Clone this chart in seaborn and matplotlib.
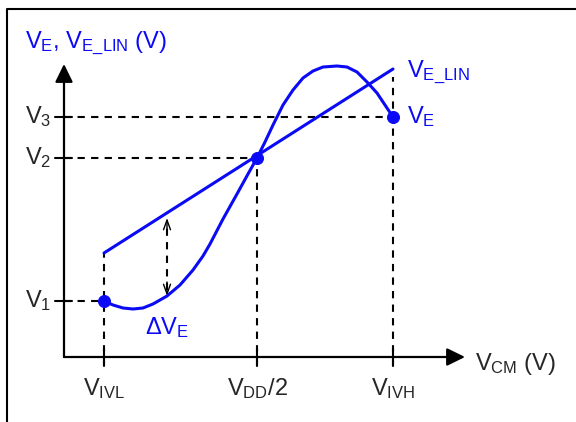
import numpy as np
import pandas as pd
import matplotlib
matplotlib.use('Agg')
import matplotlib.pyplot as plt
import seaborn as sns

sns.set_style('white')
plt.rcParams['font.family'] = ['Liberation Sans', 'DejaVu Sans']
plt.rcParams['mathtext.fontset'] = 'custom'
plt.rcParams['mathtext.rm'] = 'Liberation Sans'
plt.rcParams['mathtext.it'] = 'Liberation Sans:italic'

# x positions (V_CM) and y levels
x_names = [r'$\mathregular{V_{IVL}}$', r'$\mathregular{V_{DD}}$/2', r'$\mathregular{V_{IVH}}$']
x_vals = [40, 193, 329]
y_names = [r'$\mathregular{V_1}$', r'$\mathregular{V_2}$', r'$\mathregular{V_3}$']
y_vals = [56, 199, 240]

# V_E curve (read point by point)
ve_x = [40, 49, 59, 69, 79, 89, 103, 116, 129, 139, 146, 159, 173, 184, 193, 201, 209,
        219, 229, 239, 249, 259, 273, 283, 293, 303, 313, 321, 329]
ve_y = [56, 52, 49, 48, 49, 53, 61, 72, 87, 101, 113, 138, 163, 183, 199, 215, 232,
        252, 267, 279, 286, 290, 291, 290, 285, 275, 264, 252, 240]

# V_E_LIN straight line
lin_x = [40, 329]
lin_y = [104, 288]

# delta V_E marker
dv_x = 103
dv_y = [61, 139]

blue = '#0a0af5'

fig = plt.figure(figsize=(5.76, 4.22), dpi=100)
ax = fig.add_axes([0, 0, 1, 1])
ax.set_xlim(-64, 512)
ax.set_ylim(-65, 357)
ax.axis('off')

dash = dict(color='black', lw=1.5, dashes=(3.5, 3), zorder=1)
# guide lines
ax.plot([0, x_vals[0]], [y_vals[0]] * 2, **dash)
ax.plot([0, x_vals[1]], [y_vals[1]] * 2, **dash)
ax.plot([0, x_vals[2]], [y_vals[2]] * 2, **dash)
ax.plot([x_vals[0]] * 2, [-9, lin_y[0]], **dash)
ax.plot([x_vals[1]] * 2, [-9, y_vals[1]], **dash)
ax.plot([x_vals[2]] * 2, [-9, lin_y[1] - 8], **dash)
ax.plot([dv_x] * 2, [dv_y[0] + 6, dv_y[1] - 6], **dash)

# ticks
for v in y_vals:
    ax.plot([-9, 8], [v, v], color='black', lw=1.5, zorder=2)
for v in x_vals:
    ax.plot([v, v], [-9, 9], color='black', lw=1.5, zorder=2)

# axes with arrows
ax_arrow = dict(arrowstyle='-|>,head_length=0.55,head_width=0.27', mutation_scale=20,
                lw=1.6, color='black', shrinkA=0, shrinkB=0)
ax.annotate('', xy=(401, 0), xytext=(0, 0), arrowprops=ax_arrow)
ax.annotate('', xy=(0, 293), xytext=(0, 0), arrowprops=ax_arrow)

# delta arrow heads
head = dict(arrowstyle='->,head_length=0.5,head_width=0.18', mutation_scale=14,
            lw=1.0, color='black', shrinkA=0, shrinkB=0)
ax.annotate('', xy=(dv_x, dv_y[1]), xytext=(dv_x, dv_y[1] - 14), arrowprops=head)
ax.annotate('', xy=(dv_x, dv_y[0]), xytext=(dv_x, dv_y[0] + 14), arrowprops=head)

# curves
sns.lineplot(x=lin_x, y=lin_y, ax=ax, color=blue, lw=2.2, sort=False, zorder=3)
sns.lineplot(x=ve_x, y=ve_y, ax=ax, color=blue, lw=2.2, sort=False, zorder=3,
             solid_joinstyle='round', solid_capstyle='round')
pts = pd.DataFrame({'x': [x_vals[0], x_vals[1], x_vals[2]],
                    'y': [y_vals[0], y_vals[1], y_vals[2]]})
sns.scatterplot(data=pts, x='x', y='y', ax=ax, color=blue, s=75, edgecolor=blue, zorder=4)

# labels
fs = 17
for name, v in zip(y_names, y_vals):
    ax.text(-39, v - 6, name, fontsize=fs, ha='left', va='baseline')
for name, v in zip(x_names, x_vals):
    ax.text(v, -38, name, fontsize=fs, ha='center', va='baseline')
ax.text(411, -13, r'$\mathregular{V_{CM}}$ (V)', fontsize=fs, ha='left', va='baseline')
ax.text(-39, 309, r'$\mathregular{V_E}$, $\mathregular{V_{E\_LIN}}$ (V)', fontsize=fs,
        ha='left', va='baseline', color=blue)
ax.text(343, 280, r'$\mathregular{V_{E\_LIN}}$', fontsize=fs, ha='left', va='baseline', color=blue)
ax.text(343, 234, r'$\mathregular{V_E}$', fontsize=fs, ha='left', va='baseline', color=blue)
ax.text(81, 23, r'$\mathregular{\Delta V_E}$', fontsize=fs, ha='left', va='baseline', color=blue)

# frame
ax.plot([-57, -57, 530], [-80, 348, 348], color='black', lw=1.5, clip_on=False)

fig.savefig('out.png', dpi=100)
